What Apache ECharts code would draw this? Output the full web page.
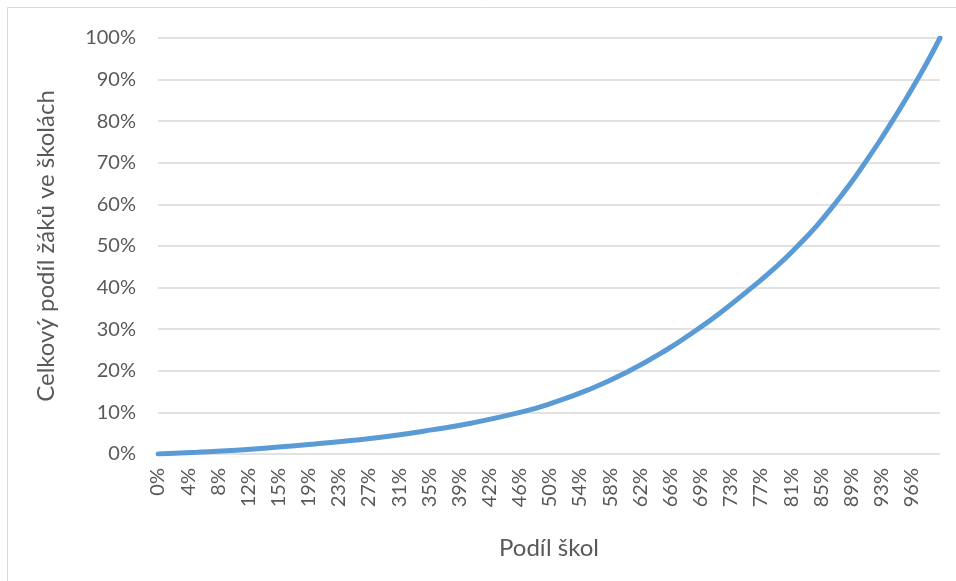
<!DOCTYPE html>
<html>
<head>
<meta charset="utf-8">
<script src="https://cdn.jsdelivr.net/npm/echarts@6/dist/echarts.min.js"></script>
<style>
html,body{margin:0;padding:0;background:#fff;}
#chart{width:956px;height:581px;}
</style>
</head>
<body>
<div id="chart"></div>
<script>
// Share of schools (x) and cumulative share of pupils (y)
var shareSchools = [0, 0.05, 0.10, 0.15, 0.20, 0.25, 0.30, 0.35, 0.40, 0.463, 0.50, 0.55, 0.60, 0.65, 0.69, 0.72, 0.758, 0.79, 0.818, 0.842, 0.865, 0.885, 0.904, 0.922, 0.939, 0.956, 0.971, 0.986, 1.0];
var sharePupils  = [0, 0.004, 0.009, 0.016, 0.024, 0.033, 0.044, 0.058, 0.074, 0.100, 0.120, 0.154, 0.197, 0.250, 0.300, 0.341, 0.398, 0.449, 0.500, 0.548, 0.600, 0.649, 0.700, 0.750, 0.800, 0.852, 0.900, 0.950, 1.0];
var xTickLabels = ['0%','4%','8%','12%','15%','19%','23%','27%','31%','35%','39%','42%','46%','50%','54%','58%','62%','66%','69%','73%','77%','81%','85%','89%','93%','96%'];
var yTickLabels = ['0%','10%','20%','30%','40%','50%','60%','70%','80%','90%','100%'];
var xStep = 0.03855;
var xTitle = 'Podíl škol';
var yTitle = 'Celkový podíl žáků ve školách';

var points = shareSchools.map(function (x, i) { return [x, sharePupils[i]]; });
var FONT = 'Lato';
var TXT = '#595959';

var chart = echarts.init(document.getElementById('chart'), null, {renderer: 'canvas'});
chart.setOption({
  backgroundColor: '#ffffff',
  animation: false,
  graphic: [{
    type: 'rect',
    shape: {x: 7.5, y: 7.5, width: 1200, height: 900},
    style: {fill: 'none', stroke: '#d9d9d9', lineWidth: 1},
    silent: true, z: -1
  }],
  grid: {left: 158, right: 16, top: 38, bottom: 127, containLabel: false},
  xAxis: {
    type: 'value', min: 0, max: 1, interval: xStep,
    name: xTitle, nameLocation: 'middle', nameGap: 82,
    nameTextStyle: {fontFamily: FONT, fontSize: 24, color: TXT},
    axisLine: {show: false}, axisTick: {show: false}, splitLine: {show: false},
    axisLabel: {
      rotate: 90, margin: 14, fontFamily: FONT, fontSize: 20, color: TXT,
      showMaxLabel: false,
      formatter: function (v) { var i = Math.round(v / xStep); return xTickLabels[i] || ''; }
    }
  },
  yAxis: {
    type: 'value', min: 0, max: 1, interval: 0.1,
    name: yTitle, nameLocation: 'middle', nameGap: 100,
    nameTextStyle: {fontFamily: FONT, fontSize: 24, color: TXT},
    axisLine: {show: false}, axisTick: {show: false},
    splitLine: {show: true, lineStyle: {color: '#d9d9d9', width: 1.5}},
    axisLabel: {
      margin: 22, fontFamily: FONT, fontSize: 20, color: TXT,
      formatter: function (v) { return yTickLabels[Math.round(v * 10)] || ''; }
    }
  },
  series: [{
    type: 'line', data: points, smooth: 0.5, showSymbol: false,
    lineStyle: {color: '#5B9BD5', width: 5, cap: 'round'},
    itemStyle: {color: '#5B9BD5'}
  }]
});
</script>
</body>
</html>
